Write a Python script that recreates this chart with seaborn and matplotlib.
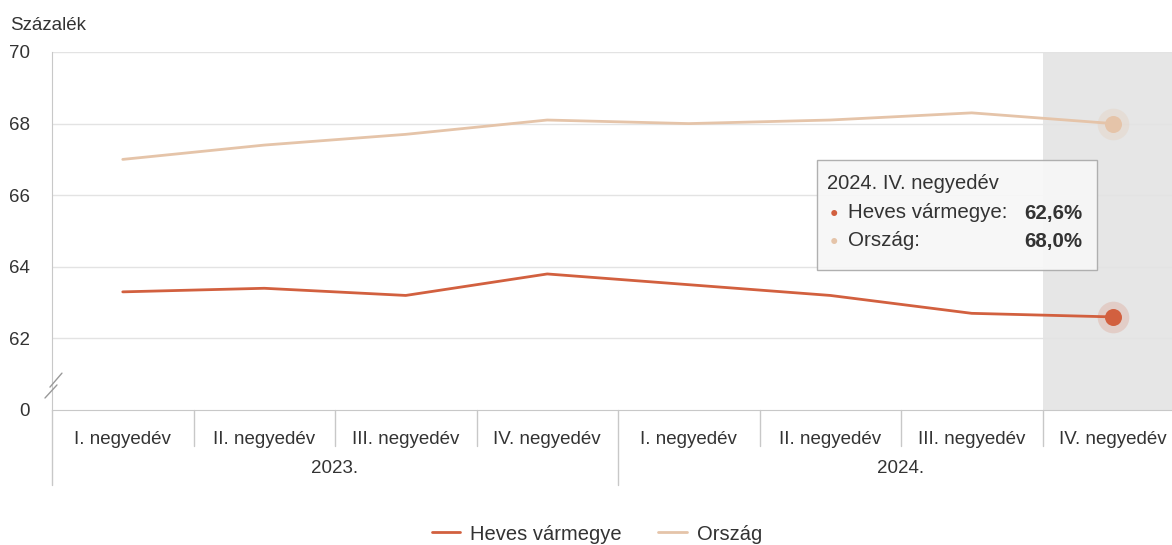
import matplotlib
matplotlib.use("Agg")
import matplotlib.pyplot as plt
import matplotlib.transforms as mtransforms
from matplotlib.lines import Line2D
import pandas as pd
import seaborn as sns

# Adatok
quarters = ["I. negyedév", "II. negyedév", "III. negyedév", "IV. negyedév",
            "I. negyedév", "II. negyedév", "III. negyedév", "IV. negyedév"]
years = ["2023.", "2024."]
heves = [63.3, 63.4, 63.2, 63.8, 63.5, 63.2, 62.7, 62.6]
orszag = [67.0, 67.4, 67.7, 68.1, 68.0, 68.1, 68.3, 68.0]
series_names = ["Heves vármegye", "Ország"]
y_ticks = [60, 62, 64, 66, 68, 70]
y_labels = ["0", "62", "64", "66", "68", "70"]

HEVES_COLOR = "#d2603f"
ORSZAG_COLOR = "#e5c4a9"
GRID_COLOR = "#e3e3e3"
AXIS_COLOR = "#c8c8c8"
TEXT_COLOR = "#333333"

sns.set_style("white")
plt.rcParams["font.family"] = ["Liberation Sans", "DejaVu Sans"]

df = pd.DataFrame({
    "pos": list(range(len(quarters))) * 2,
    "value": heves + orszag,
    "series": [series_names[0]] * len(heves) + [series_names[1]] * len(orszag),
})

W, H = 1172, 545
fig = plt.figure(figsize=(W / 100, H / 100), dpi=100)
ax = fig.add_axes([52 / W, 1 - 410 / H, 1132 / W, 358 / H])

# kiemelt utolso negyedev
ax.axvspan(6.5, 7.5, color="#e6e6e6", zorder=0, lw=0)

sns.lineplot(data=df, x="pos", y="value", hue="series",
             palette=[HEVES_COLOR, ORSZAG_COLOR], linewidth=2,
             legend=False, ax=ax, zorder=3)

# utolso pont kiemelese
last = len(quarters) - 1
ax.scatter([last], [heves[-1]], s=520, color=HEVES_COLOR, alpha=0.18, lw=0, zorder=4)
ax.scatter([last], [heves[-1]], s=150, color=HEVES_COLOR, lw=0, zorder=5)
ax.scatter([last], [orszag[-1]], s=520, color=ORSZAG_COLOR, alpha=0.25, lw=0, zorder=4)
ax.scatter([last], [orszag[-1]], s=150, color=ORSZAG_COLOR, lw=0, zorder=5)

ax.set_xlim(-0.5, len(quarters) - 0.5)
ax.set_ylim(60, 70)
ax.set_yticks(y_ticks)
ax.set_yticklabels(y_labels)
for y in y_ticks[1:]:
    ax.axhline(y, color=GRID_COLOR, lw=1, zorder=1)

ax.set_xticks(range(len(quarters)))
ax.set_xticklabels(quarters)
ax.tick_params(axis="x", length=0, pad=15, labelsize=13.5, labelcolor=TEXT_COLOR)
ax.tick_params(axis="y", length=0, pad=16, labelsize=13.5, labelcolor=TEXT_COLOR)
ax.set_xlabel("")
ax.set_ylabel("")

for side in ["top", "right"]:
    ax.spines[side].set_visible(False)
ax.spines["left"].set_color(AXIS_COLOR)
ax.spines["bottom"].set_color(AXIS_COLOR)

# tengely torese
for x0, y0, x1, y1 in [(-0.0018, 0.064, 0.0088, 0.103), (-0.0062, 0.0335, 0.0044, 0.070)]:
    ax.plot([x0, x1], [y0, y1], transform=ax.transAxes,
            color="#999999", lw=1, clip_on=False, zorder=6)

# kategoria elvalasztok
trans = mtransforms.blended_transform_factory(ax.transData, ax.transAxes)
for i in range(1, len(quarters)):
    bottom = -0.21 if i == 4 else -0.1
    ax.plot([i - 0.5, i - 0.5], [0, bottom], transform=trans,
            color=AXIS_COLOR, lw=1, clip_on=False)
ax.plot([-0.5, -0.5], [0, -0.21], transform=trans, color=AXIS_COLOR, lw=1, clip_on=False)

for j, yr in enumerate(years):
    ax.text(1.5 + 4 * j, -0.163, yr, transform=trans, ha="center", va="center",
            fontsize=13.5, color=TEXT_COLOR)

fig.text(10 / W, 1 - 25 / H, "Százalék", fontsize=13.5, color=TEXT_COLOR, va="center")

# tooltip
box = plt.Rectangle((817 / W, 1 - 270 / H), 280 / W, 110 / H, transform=fig.transFigure,
                    facecolor="#f7f7f7", edgecolor="#aaaaaa", lw=1, alpha=0.92, zorder=10)
fig.add_artist(box)
fig.text(827 / W, 1 - 183 / H, "2024. IV. negyedév", fontsize=14.5, color=TEXT_COLOR,
         va="center", zorder=11)
rows = [(series_names[0] + ":", heves[-1], HEVES_COLOR, 213),
        (series_names[1] + ":", orszag[-1], ORSZAG_COLOR, 241)]
for label, val, col, ypx in rows:
    fig.text(830 / W, 1 - ypx / H, "●", fontsize=10, color=col, va="center", zorder=11)
    fig.text(848 / W, 1 - ypx / H, label, fontsize=14.8, color=TEXT_COLOR, va="center", zorder=11)
    fig.text(1082 / W, 1 - ypx / H, f"{val:.1f}%".replace(".", ","), fontsize=14.8,
             fontweight="bold", color=TEXT_COLOR, va="center", ha="right", zorder=11)

handles = [Line2D([], [], color=HEVES_COLOR, lw=2), Line2D([], [], color=ORSZAG_COLOR, lw=2)]
fig.legend(handles, series_names, loc="center", bbox_to_anchor=(597 / W, 1 - 534 / H),
           ncol=2, frameon=False, fontsize=14.5, handlelength=1.4, handletextpad=0.5,
           columnspacing=1.8, labelcolor=TEXT_COLOR)

fig.savefig("out.png", dpi=100)
